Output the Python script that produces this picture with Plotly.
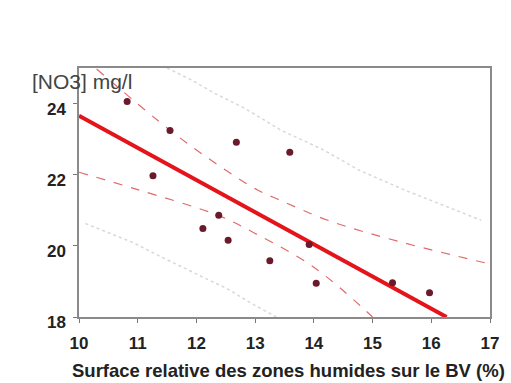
import plotly.graph_objects as go

# Observed points
x_obs = [10.82, 11.26, 11.55, 12.11, 12.38, 12.54, 12.68, 13.25, 13.59, 13.92, 14.04, 15.34, 15.97]
y_obs = [24.06, 21.97, 23.24, 20.49, 20.86, 20.16, 22.91, 19.58, 22.63, 20.04, 18.95, 18.96, 18.68]

# Regression line (endpoints)
x_fit = [10.0, 16.26]
y_fit = [23.66, 18.0]

# Confidence band (dashed red)
x_ci_up = [10.30, 11.55, 12.30, 13.04, 13.43, 14.27, 15.50, 17.00]
y_ci_up = [24.97, 23.25, 22.35, 21.57, 21.28, 20.70, 20.10, 19.49]
x_ci_lo = [10.00, 11.00, 12.38, 13.00, 14.00, 15.00]
y_ci_lo = [22.07, 21.58, 20.85, 20.35, 19.40, 18.00]

# Prediction band (faint grey dots)
x_pi_up = [11.50, 11.92, 12.31, 12.82, 13.15, 13.43, 14.16, 14.78, 15.56, 16.29, 16.85]
y_pi_up = [25.00, 24.66, 24.29, 23.87, 23.54, 23.26, 22.70, 22.12, 21.56, 21.09, 20.72]
x_pi_lo = [10.11, 10.62, 10.95, 11.34, 11.74, 12.16, 12.52, 12.94, 13.36]
y_pi_lo = [20.63, 20.30, 20.07, 19.74, 19.41, 19.08, 18.80, 18.38, 18.00]

x_ticks = [10, 11, 12, 13, 14, 15, 16, 17]
y_ticks = [18, 20, 22, 24]

FONT = "Liberation Sans, Arial, sans-serif"

fig = go.Figure()

for xs, ys in [(x_pi_up, y_pi_up), (x_pi_lo, y_pi_lo)]:
    fig.add_trace(go.Scatter(x=xs, y=ys, mode="lines", line=dict(color="#d8d8d8", width=1.5, dash="dot"),
                             hoverinfo="skip", showlegend=False))
for xs, ys in [(x_ci_up, y_ci_up), (x_ci_lo, y_ci_lo)]:
    fig.add_trace(go.Scatter(x=xs, y=ys, mode="lines", line=dict(color="#e06a6a", width=1.2, dash="dash", shape="spline"),
                             hoverinfo="skip", showlegend=False))
fig.add_trace(go.Scatter(x=x_fit, y=y_fit, mode="lines", line=dict(color="#e4141b", width=4),
                         showlegend=False))
fig.add_trace(go.Scatter(x=x_obs, y=y_obs, mode="markers",
                         marker=dict(color="#6b1a2b", size=7), showlegend=False))

axis_common = dict(showgrid=False, zeroline=False, showline=True, linecolor="#8a8a8a", linewidth=1.5,
                   mirror=True, ticks="outside", ticklen=4, tickcolor="#777",
                   tickfont=dict(family=FONT, size=17, color="#222", weight="bold"))

fig.update_xaxes(range=[10, 17], tickvals=x_ticks, ticktext=[str(v) for v in x_ticks],
                 ticklabelstandoff=6, **axis_common)
fig.update_yaxes(range=[18, 25], tickvals=y_ticks, ticktext=[str(v) for v in y_ticks],
                 ticklabelstandoff=4, ticklabelshift=5, **axis_common)

fig.add_annotation(text="[NO3] mg/l", xref="paper", yref="paper", x=-0.12, y=0.945,
                   xanchor="left", yanchor="middle", showarrow=False,
                   font=dict(family=FONT, size=21, color="#444"))
fig.add_annotation(text="Surface relative des zones humides sur le BV (%)", xref="paper", yref="paper",
                   x=0.51, y=0, yshift=-53, xanchor="center", yanchor="middle", showarrow=False,
                   font=dict(family=FONT, size=18.5, color="#222", weight="bold"))

fig.update_layout(width=511, height=383, margin=dict(l=79, r=16, t=68, b=66),
                  plot_bgcolor="white", paper_bgcolor="white")

fig.write_html("out.html", config={"displayModeBar": False},
               post_script="document.body.style.margin='0';")
